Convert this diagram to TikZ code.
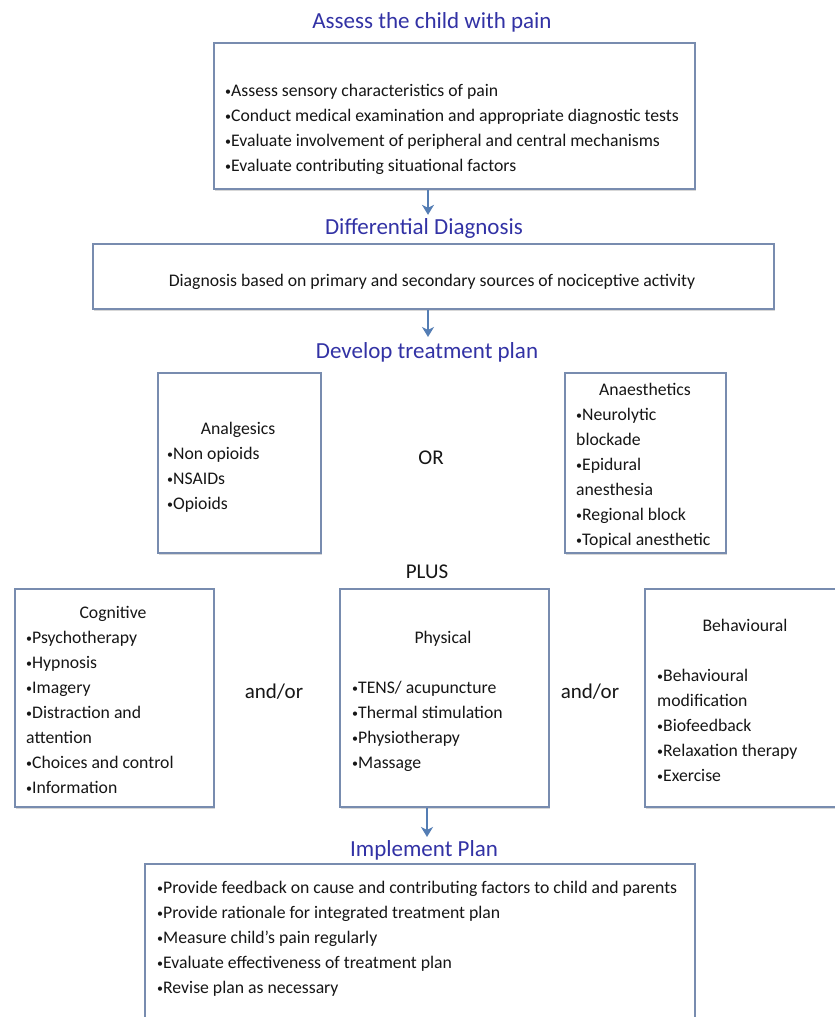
\documentclass[tikz,border=0pt]{standalone}
\usepackage{fontspec}
\setmainfont{Carlito}
\usetikzlibrary{arrows.meta,shadows}
\definecolor{ttlc}{RGB}{50,50,165}
\definecolor{bordc}{RGB}{120,140,175}
\definecolor{arrc}{RGB}{84,125,180}
\definecolor{txtc}{RGB}{22,22,22}
\newcommand\bul{\raisebox{1pt}{\fontsize{12}{12}\selectfont •}}
\begin{document}
\begin{tikzpicture}[x=1pt,y=-1pt,
  boxx/.style={draw=bordc, line width=1.8pt, fill=white, inner sep=0pt,
    anchor=north west,
    drop shadow={shadow xshift=1.5pt, shadow yshift=-1.8pt, opacity=0.22, fill=black!70}},
  body/.style={font=\fontsize{17.7}{25}\selectfont, text=txtc, inner sep=0pt, align=left},
  list/.style={body, anchor=north west},
  head/.style={body, anchor=base},
  ttl/.style={font=\fontsize{23}{28}\selectfont, text=ttlc, inner sep=0pt},
  conj/.style={font=\fontsize{21}{25}\selectfont, text=txtc, inner sep=0pt},
  arrow/.style={draw=arrc, line width=2.8pt, -{Stealth[length=10pt, width=12pt, inset=3pt]}}
]
\path[use as bounding box, clip] (0,0) rectangle (835,1017);
\fill[white] (0,0) rectangle (835,1017);

% titles
\node[ttl] (tassess) at (432,22) {Assess the child with pain};
\node[ttl] (tdiff) at (424,228) {Differential Diagnosis};
\node[ttl] (tdev) at (427,352) {Develop treatment plan};
\node[ttl] (timpl) at (424,850) {Implement Plan};

% boxes
\node[boxx, minimum width=481pt, minimum height=146pt] (b1) at (213,42) {};
\node[boxx, minimum width=681pt, minimum height=65pt] (b2) at (92,243) {};
\node[boxx, minimum width=163pt, minimum height=180pt] (ban) at (157,372) {};
\node[boxx, minimum width=161pt, minimum height=180pt] (bae) at (564,372) {};
\node[boxx, minimum width=199pt, minimum height=218pt] (bcog) at (14,588) {};
\node[boxx, minimum width=209pt, minimum height=218pt] (bphy) at (339,588) {};
\node[boxx, minimum width=202pt, minimum height=218pt] (bbeh) at (644,588) {};
\node[boxx, minimum width=550pt, minimum height=180pt] (bimp) at (144,863) {};

% box texts
\node[list] (l1) at (225,78.5) {\strut \bul Assess sensory characteristics of pain\\
\bul Conduct medical examination and appropriate diagnostic tests\\
\bul Evaluate involvement of peripheral and central mechanisms\\
\bul Evaluate contributing situational factors};

\node[head] (l2) at (432,286) {Diagnosis based on primary and secondary sources of nociceptive activity};

\node[head] (hanal) at (238,434) {Analgesics};
\node[list] (lanal) at (167,441.5) {\strut \bul Non opioids\\ \bul NSAIDs\\ \bul Opioids};

\node[head] (hanae) at (645,395) {Anaesthetics};
\node[list] (lanae) at (576,402.5) {\strut \bul Neurolytic\\ blockade\\ \bul Epidural\\ anesthesia\\ \bul Regional block\\ \bul Topical anesthetic};

\node[head] (hcog) at (113,618) {Cognitive};
\node[list] (lcog) at (26,625.5) {\strut \bul Psychotherapy\\ \bul Hypnosis\\ \bul Imagery\\ \bul Distraction and\\ attention\\ \bul Choices and control\\ \bul Information};

\node[head] (hphy) at (443,643) {Physical};
\node[list] (lphy) at (352,675.5) {\strut \bul TENS/ acupuncture\\ \bul Thermal stimulation\\ \bul Physiotherapy\\ \bul Massage};

\node[head] (hbeh) at (745,631) {Behavioural};
\node[list] (lbeh) at (657,663.5) {\strut \bul Behavioural\\ modification\\ \bul Biofeedback\\ \bul Relaxation therapy\\ \bul Exercise};

\node[list] (limp) at (157,875.5) {\strut \bul Provide feedback on cause and contributing factors to child and parents\\
\bul Provide rationale for integrated treatment plan\\
\bul Measure child’s pain regularly\\
\bul Evaluate effectiveness of treatment plan\\
\bul Revise plan as necessary};

% conjunctions
\node[conj] (cor) at (431,458) {OR};
\node[conj] (cplus) at (427,572) {PLUS};
\node[conj] (cand1) at (274,692) {and/or};
\node[conj] (cand2) at (590,692) {and/or};

% arrows
\coordinate (ax1) at (428,0);
\coordinate (ax3) at (427,0);
\draw[arrow] (b1.south -| ax1) -- ([yshift=3pt]tdiff.north -| ax1);
\draw[arrow] (b2.south -| ax1) -- ([yshift=5pt]tdev.north -| ax1);
\draw[arrow] (bphy.south -| ax3) -- ([yshift=3pt]timpl.north -| ax3);
\end{tikzpicture}
\end{document}
